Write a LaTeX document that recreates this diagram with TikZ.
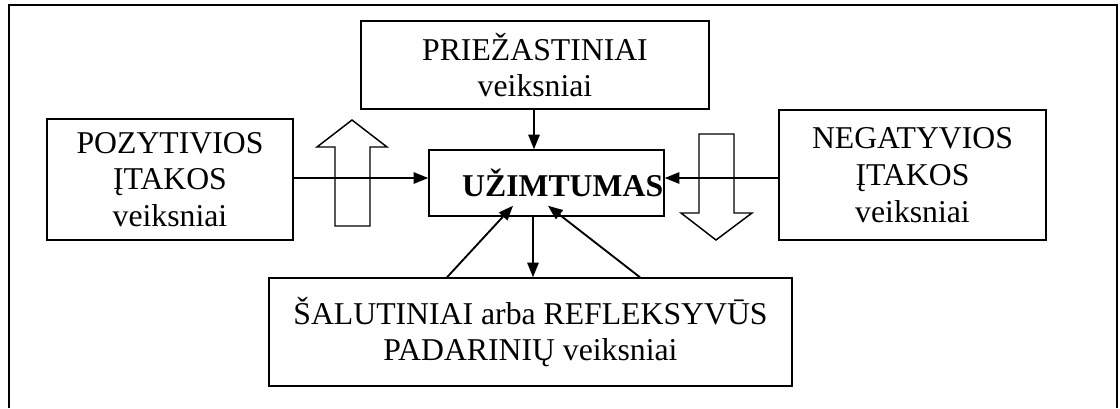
\documentclass[tikz,border=0pt]{standalone}
\usepackage{fontspec}
\setmainfont{Liberation Serif}
\usetikzlibrary{arrows.meta}

\tikzset{every picture/.style={line width=0.75pt}}

\begin{document}
\begin{tikzpicture}[x=0.75pt,y=0.75pt,yscale=-1,xscale=1,
	box/.style={draw, line width=1.1pt, inner sep=0pt, align=center, font=\fontsize{23.8}{27.6}\selectfont},
	link/.style={line width=1.4pt, -{Triangle[length=11pt,width=8.5pt]}},
	hollow/.style={draw, line width=1.1pt, line join=miter}]
	\path[use as bounding box] (0,0) rectangle (1120,408);

	%Shape: Frame
	\draw [line width=1.8pt] (9,408) -- (9,5) -- (1117,5) -- (1117,408) ;

	%Shape: Rectangle
	\node [box, minimum width=261pt, minimum height=66pt] (priez) at (535,65) {PRIEŽASTINIAI\\veiksniai};
	%Shape: Rectangle
	\node [box, minimum width=184.5pt, minimum height=90.75pt] (poz) at (170,179.5) {POZYTIVIOS\\ĮTAKOS\\veiksniai};
	%Shape: Rectangle
	\node [box, minimum width=200.25pt, minimum height=97.5pt] (neg) at (912.5,175) {NEGATYVIOS\\ĮTAKOS\\veiksniai};
	%Shape: Rectangle
	\node [box, minimum width=176.25pt, minimum height=49.5pt, text width=175pt, align=right, font=\fontsize{23.8}{27.6}\selectfont\bfseries] (uzim) at (546.5,183) {UŽIMTUMAS};
	%Shape: Rectangle
	\node [box, minimum width=392.25pt, minimum height=81pt] (sal) at (530.5,332) {ŠALUTINIAI arba REFLEKSYVŪS\\PADARINIŲ veiksniai};

	\coordinate (mid) at (0,178);

	%Straight Lines
	\draw [link] (priez.south -| 534,0) -- (uzim.north -| 534,0) ;
	\draw [link] (poz.east |- mid) -- (uzim.west |- mid) ;
	\draw [link] (neg.west |- mid) -- (uzim.east |- mid) ;
	\draw [link] (uzim.south -| 533,0) -- (sal.north -| 533,0) ;
	\draw [link] ([xshift=-62.6pt]sal.north) -- ([xshift=-25.1pt,yshift=-8.25pt]uzim.south) ;
	\draw [link] ([xshift=82.1pt]sal.north) -- ([xshift=1.1pt,yshift=-8.25pt]uzim.south) ;

	%Shape: Up Arrow
	\draw [hollow] (335,226) -- (335,147) -- (317,147) -- (352,120) -- (387,147) -- (370,147) -- (370,226) -- cycle ;
	%Shape: Down Arrow
	\draw [hollow] (699,134) -- (699,213) -- (681,213) -- (716,240) -- (752,213) -- (734,213) -- (734,134) -- cycle ;

\end{tikzpicture}
\end{document}
